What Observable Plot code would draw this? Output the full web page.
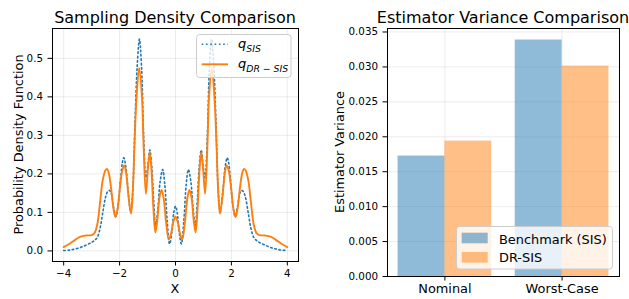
<!DOCTYPE html>
<html><head><meta charset="utf-8">
<script src="https://cdn.jsdelivr.net/npm/d3@7"></script>
<script src="https://cdn.jsdelivr.net/npm/@observablehq/plot@0.6"></script>
<style>
body{margin:0;background:#fff;font-family:"DejaVu Sans",sans-serif;}
#fig{position:relative;width:629px;height:299px;overflow:hidden;background:#fff;}
#fig > *{position:absolute;}
</style></head>
<body>
<div id="fig">
  <div id="left" style="left:0;top:0;"></div>
  <div id="right" style="left:320px;top:0;"></div>
  <svg id="labels" width="629" height="299" style="left:0;top:0;pointer-events:none" font-family="DejaVu Sans" fill="#000">
    <text x="175" y="22.5" text-anchor="middle" font-size="16">Sampling Density Comparison</text>
    <text x="503" y="22.5" text-anchor="middle" font-size="16">Estimator Variance Comparison</text>
    <text transform="translate(22.5,144.5) rotate(-90)" text-anchor="middle" font-size="12.9">Probability Density Function</text>
    <text transform="translate(344,152) rotate(-90)" text-anchor="middle" font-size="12.9">Estimator Variance</text>
    <text x="175" y="293" text-anchor="middle" font-size="12.9">X</text>
  </svg>
  <svg id="legL" width="98" height="48" style="left:196px;top:34px" font-family="DejaVu Sans">
    <rect x="0.5" y="0.5" width="94.5" height="43" rx="3" fill="#fff" fill-opacity="0.8" stroke="#cccccc" stroke-width="1"></rect>
    <line x1="5.7" x2="32" y1="10.3" y2="10.3" stroke="#1f77b4" stroke-width="1.6" stroke-dasharray="1.6,2.7"></line>
    <line x1="5.7" x2="32" y1="30.3" y2="30.3" stroke="#ff7f0e" stroke-width="1.9"></line>
    <text x="42" y="14.3" font-size="13" font-style="italic">q<tspan font-size="9.3" dy="3.6">SIS</tspan></text>
    <text x="42" y="34.3" font-size="13" font-style="italic">q<tspan font-size="9.3" dy="3.6">DR</tspan><tspan font-size="9.3" font-style="normal"> − </tspan><tspan font-size="9.3">SIS</tspan></text>
  </svg>
  <svg id="legR" width="160" height="46" style="left:456px;top:226px" font-family="DejaVu Sans">
    <rect x="0.5" y="0.5" width="156" height="42.5" rx="3" fill="#fff" fill-opacity="0.8" stroke="#cccccc" stroke-width="1"></rect>
    <rect x="5.7" y="6.7" width="26" height="10.6" fill="#1f77b4" fill-opacity="0.5"></rect>
    <rect x="5.7" y="26" width="26" height="10.6" fill="#ff7f0e" fill-opacity="0.5"></rect>
    <text x="43" y="18" font-size="12.9">Benchmark (SIS)</text>
    <text x="43" y="35.7" font-size="12.9">DR-SIS</text>
  </svg>
</div>
<script>
// ---- Left panel data ----
const sisX = [-4.0,-3.8,-3.6,-3.4,-3.2,-3.0,-2.9,-2.8,-2.7,-2.6,-2.5,-2.42,-2.36,-2.3,-2.22,-2.13,-2.05,-1.96,-1.9,-1.85,-1.78,-1.7,-1.6,-1.52,-1.45,-1.37,-1.29,-1.21,-1.14,-1.06,-0.99,-0.92,-0.85,-0.78,-0.71,-0.63,-0.55,-0.46,-0.38,-0.3,-0.21,-0.13,-0.06,0,
  0.06,0.13,0.21,0.3,0.38,0.46,0.55,0.63,0.71,0.78,0.85,0.92,0.99,1.06,1.14,1.21,1.29,1.37,1.45,1.52,1.6,1.7,1.78,1.85,1.9,1.96,2.05,2.13,2.22,2.3,2.36,2.42,2.5,2.6,2.7,2.8,2.9,3.0,3.2,3.4,3.6,3.8,4.0];
const sisY = [0.001,0.002,0.005,0.009,0.015,0.022,0.027,0.035,0.058,0.10,0.14,0.155,0.157,0.15,0.115,0.09,0.12,0.19,0.23,0.242,0.22,0.16,0.10,0.17,0.33,0.48,0.55,0.47,0.30,0.19,0.22,0.262,0.22,0.13,0.065,0.11,0.18,0.211,0.17,0.08,0.018,0.05,0.10,0.116,
  0.10,0.05,0.018,0.08,0.17,0.211,0.18,0.11,0.065,0.13,0.22,0.262,0.22,0.19,0.30,0.47,0.55,0.48,0.33,0.17,0.10,0.16,0.22,0.242,0.23,0.19,0.12,0.09,0.115,0.15,0.157,0.155,0.14,0.10,0.058,0.035,0.027,0.022,0.015,0.009,0.005,0.002,0.001];
const drX = [-4.0,-3.8,-3.6,-3.4,-3.2,-3.0,-2.9,-2.8,-2.7,-2.6,-2.5,-2.45,-2.38,-2.3,-2.22,-2.15,-2.07,-1.98,-1.9,-1.83,-1.76,-1.68,-1.59,-1.53,-1.47,-1.4,-1.3,-1.2,-1.14,-1.06,-0.99,-0.92,-0.86,-0.79,-0.72,-0.65,-0.57,-0.5,-0.43,-0.33,-0.24,-0.16,-0.08,0,
  0.08,0.16,0.24,0.33,0.43,0.5,0.57,0.65,0.72,0.79,0.86,0.92,0.99,1.06,1.14,1.2,1.3,1.4,1.47,1.53,1.59,1.68,1.76,1.83,1.9,1.98,2.07,2.15,2.22,2.3,2.38,2.45,2.5,2.6,2.7,2.8,2.9,3.0,3.2,3.4,3.6,3.8,4.0];
const drY = [0.010,0.018,0.028,0.037,0.040,0.041,0.046,0.068,0.125,0.185,0.210,0.213,0.200,0.16,0.11,0.088,0.11,0.17,0.21,0.222,0.20,0.14,0.097,0.15,0.27,0.39,0.475,0.40,0.27,0.148,0.21,0.256,0.21,0.11,0.048,0.08,0.14,0.158,0.14,0.07,0.030,0.045,0.075,0.089,
  0.075,0.045,0.030,0.07,0.14,0.158,0.14,0.08,0.048,0.11,0.21,0.256,0.21,0.148,0.27,0.40,0.475,0.39,0.27,0.15,0.097,0.14,0.20,0.222,0.21,0.17,0.11,0.088,0.11,0.16,0.200,0.213,0.210,0.185,0.125,0.068,0.046,0.041,0.040,0.037,0.028,0.018,0.010];
const leftXTicks = [-4,-2,0,2,4];
const leftYTicks = [0,0.1,0.2,0.3,0.4,0.5];

// ---- Right panel data ----
const categories = ["Nominal","Worst-Case"];
const benchmarkVar = [0.01724,0.03385];
const drsisVar = [0.01938,0.03012];
const rightYTicks = [0,0.005,0.010,0.015,0.020,0.025,0.030,0.035];

const gridStyle = {stroke:"#b0b0b0", strokeOpacity:0.3, strokeWidth:0.8};
const baseStyle = {fontFamily:"DejaVu Sans", fontSize:"10.3px", color:"#000", background:"#fff", overflow:"visible"};
const minusFmt = d => d < 0 ? "\u2212" + Math.abs(d) : String(d);

const left = Plot.plot({
  width:310, height:299,
  marginLeft:52, marginRight:12, marginTop:28, marginBottom:38,
  x:{domain:[-4.4,4.4]},
  y:{domain:[-0.0275,0.5775]},
  style: baseStyle,
  marks:[
    Plot.gridX({ticks:leftXTicks, ...gridStyle}),
    Plot.gridY({ticks:leftYTicks, ...gridStyle}),
    Plot.line(sisX.map((x,i)=>[x, sisY[i]]), {curve:"catmull-rom", stroke:"#1f77b4", strokeWidth:1.6, strokeDasharray:"1.6,2.7"}),
    Plot.line(drX.map((x,i)=>[x, drY[i]]), {curve:"catmull-rom", stroke:"#ff7f0e", strokeWidth:1.9}),
    Plot.frame({stroke:"#000", strokeWidth:1}),
    Plot.axisX({ticks:leftXTicks, tickFormat:minusFmt, tickSize:4.5, tickPadding:3.5, label:null, fill:"#000"}),
    Plot.axisY({ticks:leftYTicks, tickFormat:d3.format(".1f"), tickSize:4.5, tickPadding:5, label:null, fill:"#000"})
  ]
});
document.getElementById("left").appendChild(left);

const barW = 0.4;
const benchRows = categories.map((c,i)=>({i, v:benchmarkVar[i]}));
const drRows = categories.map((c,i)=>({i, v:drsisVar[i]}));
const right = Plot.plot({
  width:309, height:299,
  marginLeft:67, marginRight:10, marginTop:28, marginBottom:23,
  x:{domain:[-0.49,1.49]},
  y:{domain:[0,0.0355]},
  style: baseStyle,
  marks:[
    Plot.gridX({ticks:[0,1], ...gridStyle}),
    Plot.gridY({ticks:rightYTicks, ...gridStyle}),
    Plot.rectY(benchRows, {x1:d=>d.i-barW, x2:d=>d.i, y:"v", fill:"#1f77b4", fillOpacity:0.5}),
    Plot.rectY(drRows, {x1:d=>d.i, x2:d=>d.i+barW, y:"v", fill:"#ff7f0e", fillOpacity:0.5}),
    Plot.frame({stroke:"#000", strokeWidth:1}),
    Plot.axisX({ticks:[0,1], tickFormat:i=>categories[i], fontSize:12.9, tickSize:4.5, tickPadding:3, label:null, fill:"#000"}),
    Plot.axisY({ticks:rightYTicks, tickFormat:d3.format(".3f"), tickSize:4.5, tickPadding:5, label:null, fill:"#000"})
  ]
});
document.getElementById("right").appendChild(right);
</script>
</body></html>
